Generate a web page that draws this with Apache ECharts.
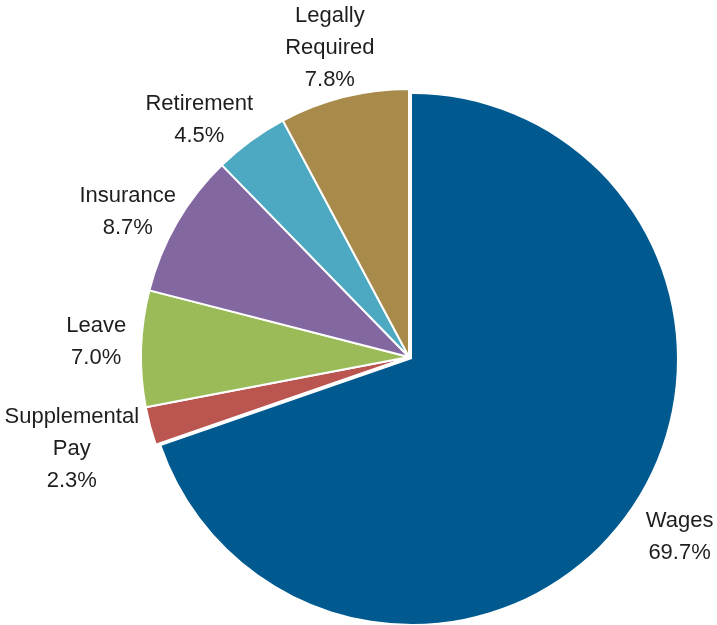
<!DOCTYPE html>
<html>
<head>
<meta charset="utf-8">
<script src="https://cdn.jsdelivr.net/npm/echarts@6/dist/echarts.min.js"></script>
<style>
  html, body { margin: 0; padding: 0; background: #ffffff; }
  #chart { width: 717px; height: 625px; }
</style>
</head>
<body>
<div id="chart"></div>
<script>
// Share of total compensation by component (percent)
const categories = ['Wages', 'Supplemental\nPay', 'Leave', 'Insurance', 'Retirement', 'Legally\nRequired'];
const shares = [69.7, 2.3, 7.0, 8.7, 4.5, 7.8];

// Slice colours, one per component
const sliceColors = ['#005A8F', '#BA5550', '#9BBB59', '#8267A0', '#4CA9C1', '#A88A4B'];
// Nudges for each label block, relative to its spot outside the slice
const labelNudge = [[11, -5], [-30, 10], [5, -5], [-6, 14], [-22, 20], [-2, -1]];

const chart = echarts.init(document.getElementById('chart'), null, { renderer: 'canvas' });

const labelText = p => p.name + '\n' + shares[p.dataIndex].toFixed(1) + '%';

// Build one pie series; only the items listed in `visible` are painted
function makeSeries(center, radius, visible, borderWidth) {
  return {
    type: 'pie',
    center: center,
    radius: radius,
    startAngle: 90,
    clockwise: true,
    avoidLabelOverlap: false,
    silent: true,
    animation: false,
    emphasis: { disabled: true },
    label: {
      show: true,
      position: 'outside',
      alignTo: 'none',
      distanceToLabelLine: 0,
      formatter: labelText,
      fontFamily: 'Liberation Sans, Arial, sans-serif',
      fontSize: 22,
      lineHeight: 32,
      color: '#1e1e1e'
    },
    labelLine: { show: false, length: 50, length2: 0 },
    labelLayout: p => ({
      align: 'center',
      verticalAlign: 'middle',
      dx: labelNudge[p.dataIndex][0],
      dy: labelNudge[p.dataIndex][1]
    }),
    data: categories.map((name, i) => {
      const on = visible.indexOf(i) >= 0;
      return {
        name: name,
        value: shares[i],
        itemStyle: on
          ? { color: sliceColors[i], borderColor: '#ffffff', borderWidth: borderWidth }
          : { color: 'rgba(0,0,0,0)', borderWidth: 0 },
        label: { show: on }
      };
    })
  };
}

chart.setOption({
  backgroundColor: '#ffffff',
  animation: false,
  series: [
    // the smaller benefit slices
    makeSeries([409, 357], 268, [1, 2, 3, 4, 5], 2),
    // wages, pulled slightly away from the rest
    makeSeries([412, 359], 265, [0], 0)
  ]
});
</script>
</body>
</html>
